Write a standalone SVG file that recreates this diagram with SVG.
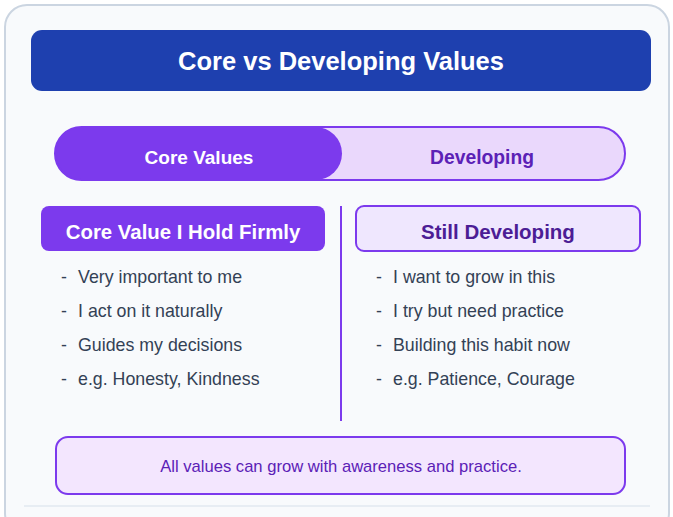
<svg xmlns="http://www.w3.org/2000/svg" width="673" height="517" viewBox="0 0 673 517">
  <style>
    .sans { font-family: "Liberation Sans", Arial, sans-serif; }
    .bold { font-weight: bold; }
    .item { font-size: 17.8px; fill: #334155; }
    .accent { stroke: #7c3aed; stroke-width: 2; }
  </style>
  <defs>
    <clipPath id="pillClip">
      <rect x="55" y="127" width="570" height="53" rx="26.5"/>
    </clipPath>
  </defs>

  <!-- card background -->
  <rect x="5" y="5" width="664" height="530" rx="22" fill="#f8fafc" stroke="#cbd5e1" stroke-width="2"/>

  <!-- title bar -->
  <g id="title">
    <rect x="31" y="30" width="620" height="61" rx="11" fill="#1e40af"/>
    <text x="341" y="70" text-anchor="middle" class="sans bold" font-size="25.5" fill="#ffffff">Core vs Developing Values</text>
  </g>

  <!-- toggle -->
  <g id="toggle">
    <rect x="55" y="127" width="570" height="53" rx="26.5" fill="#ead8fc"/>
    <rect x="55" y="127" width="287" height="53" rx="26.5" fill="#7c3aed" clip-path="url(#pillClip)"/>
    <rect x="55" y="127" width="570" height="53" rx="26.5" fill="none" class="accent"/>
    <text x="199" y="164" text-anchor="middle" class="sans bold" font-size="19" fill="#ffffff">Core Values</text>
    <text x="482" y="164" text-anchor="middle" class="sans bold" font-size="19.3" fill="#5b21b6">Developing</text>
  </g>

  <!-- divider -->
  <g id="connectors">
    <line x1="341" y1="206" x2="341" y2="421" class="accent"/>
  </g>

  <!-- left column -->
  <g id="core">
    <rect x="41" y="206" width="284" height="45" rx="8" fill="#7c3aed"/>
    <text x="183" y="239" text-anchor="middle" class="sans bold" font-size="20.4" fill="#ffffff">Core Value I Hold Firmly</text>
    <g class="sans item">
      <text x="61" y="283">-</text><text x="78" y="283">Very important to me</text>
      <text x="61" y="317">-</text><text x="78" y="317">I act on it naturally</text>
      <text x="61" y="351">-</text><text x="78" y="351">Guides my decisions</text>
      <text x="61" y="385">-</text><text x="78" y="385">e.g. Honesty, Kindness</text>
    </g>
  </g>

  <!-- right column -->
  <g id="developing">
    <rect x="356" y="206" width="284" height="45" rx="8" fill="#efe7fe" class="accent"/>
    <text x="498" y="239" text-anchor="middle" class="sans bold" font-size="20.5" fill="#4c1d95">Still Developing</text>
    <g class="sans item">
      <text x="376" y="283">-</text><text x="393" y="283">I want to grow in this</text>
      <text x="376" y="317">-</text><text x="393" y="317">I try but need practice</text>
      <text x="376" y="351">-</text><text x="393" y="351">Building this habit now</text>
      <text x="376" y="385">-</text><text x="393" y="385">e.g. Patience, Courage</text>
    </g>
  </g>

  <!-- footer note -->
  <g id="note">
    <rect x="56" y="437" width="569" height="57" rx="12" fill="#f3e6fe" class="accent"/>
    <text x="341" y="472" text-anchor="middle" class="sans" font-size="16.6" fill="#5b21b6">All values can grow with awareness and practice.</text>
  </g>

  <line x1="24" y1="506" x2="650" y2="506" stroke="#e2e8f0" stroke-width="1.5"/>
</svg>
